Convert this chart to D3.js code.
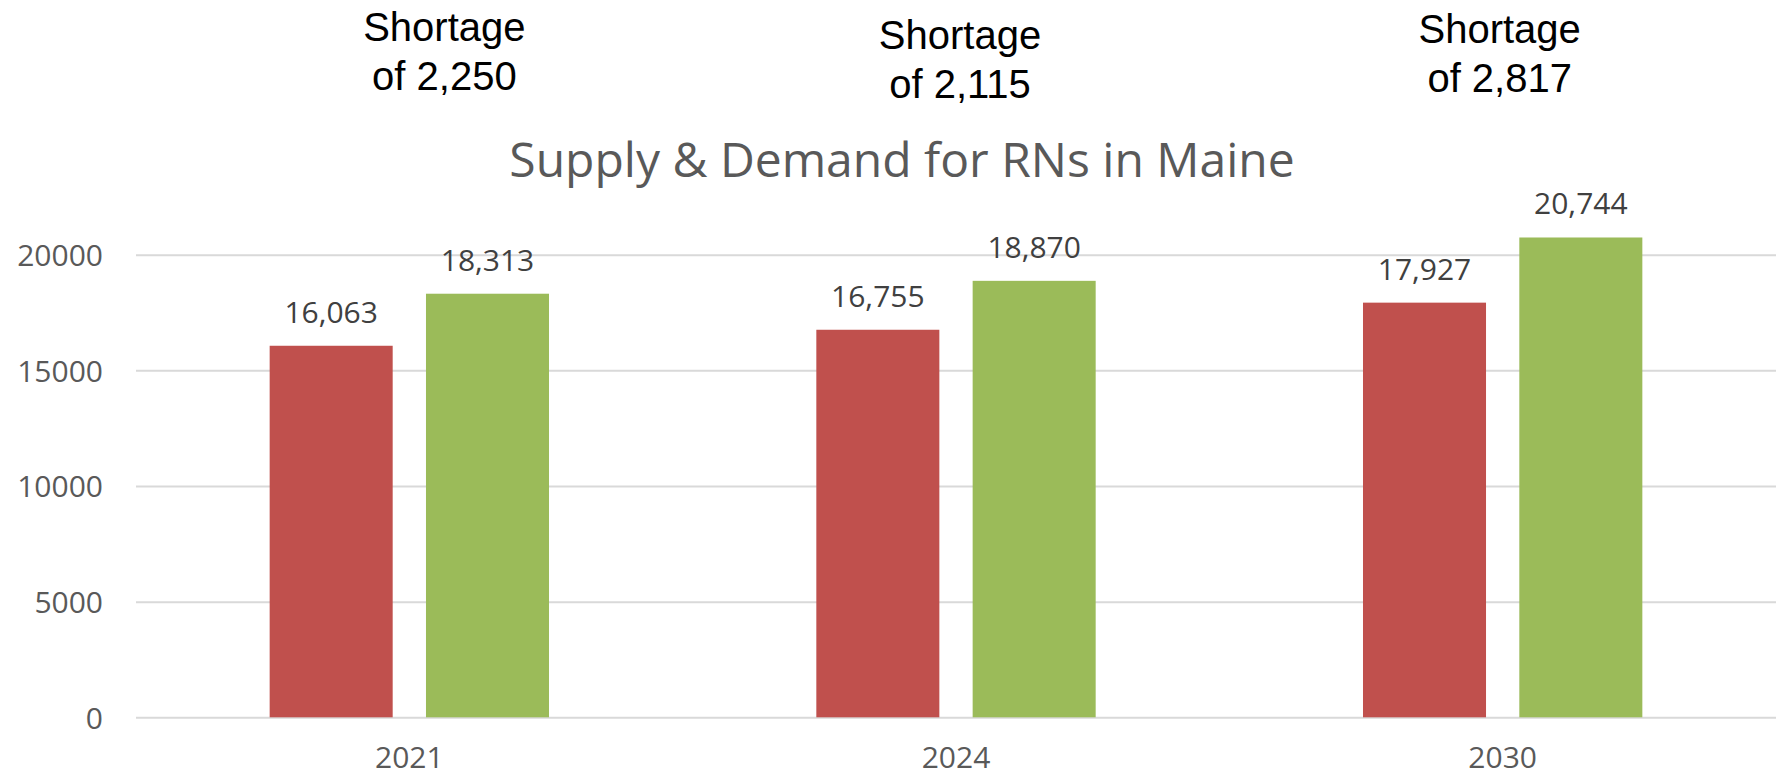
<!DOCTYPE html>
<html>
<head>
<meta charset="utf-8">
<script src="https://d3js.org/d3.v7.min.js"></script>
<style>
  html, body { margin: 0; padding: 0; background: #fff; }
  svg { display: block; }
</style>
</head>
<body>
<div id="chart"></div>
<script>
// chart data
var years = ["2021", "2024", "2030"];
var supply = [16063, 16755, 17927];
var demand = [18313, 18870, 20744];
var seriesNames = ["supply", "demand"];
var yTicks = [0, 5000, 10000, 15000, 20000];
var shortageText = ["of 2,250", "of 2,115", "of 2,817"];
var titleText = "Supply & Demand for RNs in Maine";

var svgWidth = 1781;
var svgHeight = 776;

var svg = d3.select("#chart")
  .append("svg")
  .attr("width", svgWidth)
  .attr("height", svgHeight);

// scales
var x0 = d3.scaleBand()
  .domain(years)
  .range([136, 1776])
  .paddingInner(0.489)
  .paddingOuter(0.2445);

var x1 = d3.scaleBand()
  .domain(seriesNames)
  .range([0, x0.bandwidth()])
  .paddingInner(0.213);

var y = d3.scaleLinear()
  .domain([0, 20000])
  .range([717.3, 254.7]);

var color = d3.scaleOrdinal()
  .domain(seriesNames)
  .range(["#C0504D", "#9BBB59"]);

// gridlines + y labels
var leftAxis = d3.axisLeft(y)
  .tickValues(yTicks)
  .tickFormat(d3.format("d"))
  .tickSize(-(1776 - 136))
  .tickPadding(33);

var yAxis = svg.append("g")
  .attr("transform", "translate(136,0)")
  .call(leftAxis);

yAxis.select(".domain").remove();
yAxis.selectAll(".tick line")
  .attr("stroke", "#d9d9d9")
  .attr("stroke-width", 2);
yAxis.selectAll(".tick text")
  .attr("fill", "#595959")
  .attr("dy", "0.357em")
  .style("font", "30px 'Open Sans'");

// x labels
var bottomAxis = d3.axisBottom(x0).tickSize(0).tickPadding(0);
var xAxis = svg.append("g")
  .attr("transform", "translate(0,717.3)")
  .call(bottomAxis);
xAxis.select(".domain").remove();
xAxis.selectAll(".tick text")
  .attr("y", 51)
  .attr("dy", 0)
  .attr("fill", "#595959")
  .style("font", "30px 'Open Sans'");

// bars
var rows = years.map(function(yr, i) {
  return { year: yr, values: [
    { key: "supply", value: supply[i] },
    { key: "demand", value: demand[i] }
  ] };
});

var groups = svg.selectAll("g.year")
  .data(rows)
  .enter().append("g")
  .attr("class", "year")
  .attr("transform", function(d) { return "translate(" + x0(d.year) + ",0)"; });

groups.selectAll("rect")
  .data(function(d) { return d.values; })
  .enter().append("rect")
  .attr("x", function(d) { return x1(d.key); })
  .attr("width", x1.bandwidth())
  .attr("y", function(d) { return y(d.value); })
  .attr("height", function(d) { return y(0) - y(d.value); })
  .attr("fill", function(d) { return color(d.key); });

groups.selectAll("text.val")
  .data(function(d) { return d.values; })
  .enter().append("text")
  .attr("class", "val")
  .attr("x", function(d) { return x1(d.key) + x1.bandwidth() / 2; })
  .attr("y", function(d) { return y(d.value) - 23; })
  .attr("text-anchor", "middle")
  .attr("fill", "#404040")
  .style("font", "30px 'Open Sans'")
  .text(function(d) { return d3.format(",")(d.value); });

// title
svg.append("text")
  .attr("x", 902)
  .attr("y", 177)
  .attr("text-anchor", "middle")
  .attr("fill", "#595959")
  .style("font", "48px 'Open Sans'")
  .text(titleText);

// shortage notes above each year
var noteDx = [35, 4, -3];
var noteY = [41, 49, 42.7];

var notes = svg.selectAll("g.note")
  .data(years)
  .enter().append("g")
  .attr("class", "note")
  .attr("transform", function(d, i) {
    return "translate(" + (x0(d) + x0.bandwidth() / 2 + noteDx[i]) + "," + noteY[i] + ")";
  });

notes.append("text")
  .attr("text-anchor", "middle")
  .attr("fill", "#000")
  .style("font", "40px 'Liberation Sans'")
  .text("Shortage");

notes.append("text")
  .attr("y", 49)
  .attr("text-anchor", "middle")
  .attr("fill", "#000")
  .style("font", "40px 'Liberation Sans'")
  .text(function(d, i) { return shortageText[i]; });
</script>
</body>
</html>
